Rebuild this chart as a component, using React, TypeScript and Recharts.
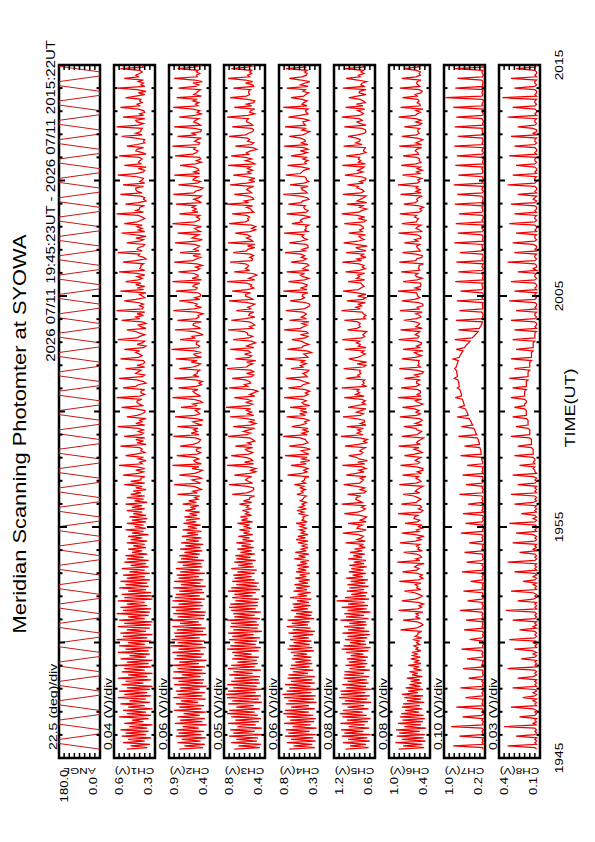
import React from 'react';
import { LineChart, Line, XAxis, YAxis, ReferenceArea } from 'recharts';

// ---------- texts / axis labels ----------
const TITLE = 'Meridian Scanning Photomter at SYOWA';
const SUBTITLE = '2026 07/11 19:45:23UT - 2026 07/11 2015:22UT';
const X_TITLE = 'TIME(UT)';
const CHANNEL_NAMES = ['ANGL', 'CH1(V)', 'CH2(V)', 'CH3(V)', 'CH4(V)', 'CH5(V)', 'CH6(V)', 'CH7(V)', 'CH8(V)'];
const DIV_LABELS = ['22.5 (deg)/div', '0.04 (V)/div', '0.06 (V)/div', '0.05 (V)/div', '0.06 (V)/div', '0.08 (V)/div', '0.08 (V)/div', '0.10 (V)/div', '0.03 (V)/div'];
const TOP_LABELS = ['180.0', '0.6', '0.9', '0.8', '0.8', '1.2', '1.0', '1.0', '0.4'];
const BOTTOM_LABELS = ['0.0', '0.3', '0.4', '0.4', '0.3', '0.6', '0.4', '0.2', '0.1'];
const Y_MIN = [0, 0.28, 0.42, 0.4, 0.32, 0.56, 0.36, 0.2, 0.14];
const Y_DIV = [22.5, 0.04, 0.06, 0.05, 0.06, 0.08, 0.08, 0.1, 0.03];
const TIME_TICK_VALUES = [0, 10, 20, 30];
const TIME_TICK_LABELS = ['1945', '1955', '2005', '2015'];
const MINUTE_TICKS = [0, 1, 2, 3, 4, 5, 6, 7, 8, 9, 10, 11, 12, 13, 14, 15, 16, 17, 18, 19, 20, 21, 22, 23, 24, 25, 26, 27, 28, 29, 30];

// sampling (minutes after 19:45): 6 samples per scan
const T0 = 23 / 60;
const DT = 0.0698;
const SCAN_SAMPLES = 6;
const SWEEP_SAMPLES = 3.5; // time spent moving between the two horizons

// ---------- series ----------
// scan angle (deg): start / end of each sweep (the mirror rests at the horizon in between)
const ANGLE = [
  0, 180, 180, 0, 0, 180, 180, 0, 0, 180, 180, 0, 0, 180, 180, 0, 0, 180, 180, 0,
  0, 180, 180, 0, 0, 180, 180, 0, 0, 180, 180, 0, 0, 180, 180, 0, 0, 180, 180, 0,
  0, 180, 180, 0, 0, 180, 180, 0, 0, 180, 180, 0, 0, 180, 180, 0, 0, 180, 180, 0,
  0, 180, 180, 0, 0, 180, 180, 0, 0, 180, 180, 0, 0, 180, 180, 0, 0, 180, 180, 0,
  0, 180, 180, 0, 0, 180, 180, 0, 0, 180, 180, 0, 0, 180, 180, 0, 0, 180, 180, 0,
  0, 180, 180, 0, 0, 180, 180, 0, 0, 180, 180, 0, 0, 180, 180, 0, 0, 180, 180, 0,
  0, 180, 180, 0, 0, 180, 180, 0, 0, 180, 180, 0, 0, 180, 180, 0, 0, 180, 180, 0,
  0, 180];

// photometer channels, in units of 0.01 V
const CH1 = [
  50,34,47,32,53,36, 49,31,54,35,51,33, 55,34,48,30,52,37, 46,33,56,31,50,35, 53,30,49,36,55,32,
  48,35,57,31,52,34, 56,32,50,30,54,37, 51,31,57,34,49,30, 54,36,52,31,57,33, 50,30,55,35,48,32,
  57,33,51,30,56,36, 49,31,58,34,53,30, 55,35,50,32,57,31, 52,30,56,36,49,33, 58,32,53,31,55,34,
  50,36,57,30,52,31, 54,31,49,35,56,33, 51,34,55,32,50,36, 53,32,48,36,54,33, 47,35,52,33,50,37,
  51,34,46,38,49,35, 45,36,50,34,47,38, 49,33,46,37,51,35, 44,37,50,35,46,34, 48,35,45,38,50,36,
  46,38,51,34,44,37, 50,36,47,39,45,35, 43,38,52,36,47,39, 39,36,53,41,37,43, 36,42,56,38,40,35,
  41,37,51,43,36,39, 38,40,55,35,42,37, 43,36,52,39,37,41, 37,41,57,36,43,38, 40,35,50,42,38,36,
  36,43,54,37,40,42, 42,38,58,40,36,39, 39,36,53,43,41,35, 37,42,56,38,36,43, 41,39,51,36,42,37,
  36,37,55,41,38,40, 43,40,52,37,35,42, 38,36,57,42,40,36, 40,43,50,35,39,41, 35,38,54,40,43,37,
  42,36,58,38,37,40, 37,41,52,43,36,38, 40,35,55,37,42,36, 43,39,51,41,38,42, 36,42,56,36,40,39,
  39,37,53,43,35,37, 41,40,57,38,42,41, 37,36,50,40,37,43, 35,43,54,36,41,38, 42,38,52,42,39,36,
  38,41,58,37,43,40, 40,36,51,41,35,37, 36,39,55,38,42,43, 43,37,53,36,40,38, 37,42,57,43,37,36,
  41,35,52,39,41,40, 38,40,56,35,38,43, 42,37,50,42,36,37, 36,43,54,38,43,39, 39,38,58,41,37,42,
  43,36,53,37,40,36, 37,41,55,40,42,38, 40,39,51,43,36,41, 35,42,57,36,39,37, 41,37,52,41,43,40,
  38,40,55,37,38,42];

const CH2 = [
  78,50,72,48,80,53, 75,47,82,52,79,49, 81,55,74,46,83,51, 77,48,80,54,73,47, 84,52,78,49,82,56,
  76,47,85,51,80,48, 82,54,77,46,84,50, 79,49,86,53,75,47, 85,51,80,48,87,55, 78,46,84,52,81,49,
  86,53,79,47,88,51, 80,48,87,54,83,46, 84,50,81,47,86,52, 77,55,88,49,80,48, 85,47,82,53,87,50,
  79,52,86,48,83,54, 82,49,78,51,85,47, 76,53,84,50,79,55, 81,48,77,54,82,51, 74,52,80,49,76,56,
  78,54,72,51,77,53, 71,50,76,55,70,52, 75,56,69,52,74,57, 68,53,73,58,70,54, 72,57,66,54,71,59,
  65,55,74,58,67,56, 60,54,80,57,62,52, 56,61,84,53,58,63, 52,57,78,60,55,51, 63,55,86,52,59,61,
  55,60,81,57,53,58, 58,52,77,62,56,54, 53,59,85,55,64,57, 61,56,80,51,58,62, 50,58,83,60,54,56,
  59,53,76,57,62,51, 54,62,86,53,57,60, 62,56,79,58,52,55, 51,59,84,55,61,57, 57,54,78,62,56,53,
  64,57,82,52,59,61, 52,61,87,56,54,58, 58,55,77,60,63,50, 55,60,83,53,57,62, 61,52,80,58,55,56,
  50,58,85,61,52,59, 57,63,78,54,60,53, 53,56,82,59,57,62, 60,54,86,52,63,56, 56,61,79,57,54,59,
  51,57,84,62,58,53, 62,53,77,55,61,57, 54,60,83,58,51,63, 59,55,80,53,57,60, 52,62,86,60,55,54,
  58,54,78,56,62,58, 63,59,82,52,56,61, 55,52,85,61,59,53, 50,58,79,57,53,62, 60,56,84,54,61,55,
  56,61,77,59,52,58, 53,54,83,62,58,56, 61,59,86,55,54,60, 57,52,80,58,63,53, 52,60,84,53,56,61,
  59,55,78,60,52,57, 54,62,85,56,59,55, 62,57,81,52,61,58, 56,53,79,59,55,62, 51,60,84,57,58,54,
  58,56,80,61,53,59];

const CH3 = [
  70,45,66,44,73,48, 68,47,75,43,71,50, 74,43,67,49,76,46, 69,44,73,47,77,50, 75,45,68,51,76,43,
  72,46,77,44,78,49, 76,43,71,48,77,45, 73,46,70,45,75,52, 71,44,76,50,73,47, 67,48,72,46,70,53,
  72,46,77,44,74,49, 70,48,75,45,72,51, 76,43,71,47,74,46, 73,48,77,45,70,50, 71,44,73,49,75,47,
  74,47,69,46,72,52, 70,49,76,45,73,48, 68,46,72,50,70,53, 71,50,67,48,73,51, 66,52,70,49,68,54,
  69,50,64,53,67,51, 63,54,68,51,62,55, 66,52,61,55,65,53, 60,55,67,52,63,57, 64,53,59,56,62,54,
  58,56,65,53,61,55, 55,50,72,58,53,51, 51,57,75,52,56,59, 57,53,70,55,49,54, 49,56,77,51,60,52,
  54,59,73,56,52,57, 59,52,69,53,57,50, 52,55,76,58,54,61, 56,50,71,54,49,55, 50,58,74,51,57,53,
  58,54,78,56,52,59, 53,57,70,50,55,51, 47,52,75,57,60,54, 55,59,72,53,51,58, 51,54,77,58,56,52,
  58,49,69,55,53,60, 54,56,74,51,58,54, 49,53,71,56,52,57, 57,60,76,52,55,50, 52,55,73,59,50,56,
  55,51,68,54,57,53, 50,57,75,52,55,59, 59,54,72,57,51,54, 53,58,77,50,56,52, 48,52,70,55,59,57,
  56,59,74,53,52,55, 51,54,71,58,57,50, 57,50,76,52,54,58, 54,57,69,55,49,53, 49,53,75,59,56,57,
  55,58,72,51,53,54, 58,52,77,56,60,51, 52,56,70,53,55,58, 56,51,74,58,50,55, 50,58,71,54,57,52,
  57,54,76,50,53,59, 53,59,73,56,58,54, 48,52,69,53,51,57, 55,57,75,59,56,52, 51,53,72,52,54,58,
  58,56,77,57,50,55, 54,50,70,53,58,51, 50,57,74,58,55,56, 56,54,71,51,52,59, 52,59,76,55,57,53,
  55,53,73,57,51,56];

const CH4 = [
  68,38,63,41,71,37, 66,40,73,37,69,44, 72,36,64,43,74,39, 67,37,71,40,75,45, 73,38,66,45,72,36,
  69,39,74,37,76,42, 71,36,68,43,73,38, 66,41,70,38,69,46, 64,40,67,44,66,41, 61,43,65,42,63,47,
  66,39,70,41,68,44, 63,42,67,45,64,40, 69,38,64,43,71,46, 65,44,70,39,62,42, 60,41,66,46,63,43,
  64,45,59,42,67,47, 58,43,63,47,60,44, 62,46,57,44,61,48, 56,44,60,48,58,45, 59,47,55,45,62,49,
  57,45,61,48,54,46, 53,48,58,46,60,49, 58,46,54,50,56,47, 55,49,60,47,53,51, 52,47,57,51,59,48,
  56,50,53,48,55,52, 51,48,59,52,54,49, 55,51,62,49,53,50, 50,45,70,53,47,51, 46,52,66,48,55,44,
  53,47,73,45,50,54, 43,50,68,52,46,48, 49,55,75,47,53,45, 52,46,65,55,48,50, 45,51,71,49,56,47,
  55,48,67,44,51,53, 48,53,74,50,46,49, 44,49,69,54,52,45, 51,56,72,47,49,52, 47,45,66,52,55,48,
  54,50,73,46,48,51, 42,47,70,53,52,45, 50,54,65,49,46,55, 46,48,74,55,51,47, 53,45,68,48,54,50,
  48,52,72,51,47,44, 44,49,67,54,50,53, 52,46,75,47,55,48, 47,53,69,50,45,52, 55,50,71,45,52,49,
  45,47,66,52,48,54, 50,54,73,49,53,46, 46,48,68,55,47,51, 53,51,74,46,50,48, 49,45,65,53,55,52,
  43,52,71,48,46,50, 51,49,69,54,52,45, 47,55,75,47,49,53, 54,46,67,51,45,48, 48,50,72,55,53,51,
  44,53,70,48,50,46, 52,47,66,53,47,55, 46,51,74,46,54,49, 50,55,68,52,48,44, 53,48,73,49,51,52,
  45,52,69,55,46,48, 49,46,75,47,53,51, 47,53,66,51,49,45, 52,49,71,46,55,50, 44,54,68,53,48,47,
  50,47,72,49,52,54];

const CH5 = [
  102,66,95,70,106,64, 98,68,108,63,104,74, 109,65,97,72,110,67, 100,63,107,69,111,75, 106,66,99,73,108,62,
  103,68,112,64,109,71, 110,62,101,70,107,66, 99,69,105,65,104,73, 104,64,96,71,102,68, 97,70,100,67,94,74,
  101,66,108,63,105,70, 95,71,103,68,99,64, 107,65,98,72,104,69, 96,70,110,66,101,73, 104,63,99,69,108,67,
  98,72,116,65,103,70, 93,68,100,73,96,66, 99,71,94,67,101,75, 91,70,97,74,93,69, 96,73,89,70,98,76,
  90,72,95,76,88,71, 80,74,102,71,84,77, 74,82,106,78,70,84, 82,76,98,70,79,73, 69,79,104,83,75,71,
  77,72,108,76,81,86, 85,78,99,73,70,79, 72,84,105,80,77,74, 79,70,101,86,73,81, 70,76,107,72,83,68,
  81,85,97,78,75,80, 76,71,103,82,69,74, 68,80,109,75,84,78, 83,74,100,70,79,72, 73,86,106,79,74,85,
  78,70,98,84,71,76, 71,77,104,73,86,80, 84,81,108,69,76,73, 75,72,101,80,83,78, 80,79,105,74,70,84,
  69,85,97,83,77,71, 77,73,103,70,82,79, 85,80,107,76,72,75, 72,69,99,84,79,81, 79,83,104,71,74,70,
  74,76,108,79,86,77, 82,71,100,75,70,83, 70,84,106,82,78,73, 76,78,98,72,85,80, 83,72,102,80,71,76,
  73,81,107,77,84,70, 78,74,101,70,79,86, 68,86,105,83,73,78, 81,71,97,76,80,74, 75,79,104,73,70,82,
  72,84,108,81,77,69, 80,75,100,69,84,79, 74,70,106,78,73,76, 84,82,99,74,80,71, 70,77,103,85,75,83,
  77,73,107,71,82,78, 82,80,101,79,70,74, 73,71,105,76,86,80, 79,85,98,83,72,70, 71,76,104,70,79,84,
  76,81,108,80,74,77, 83,72,102,75,85,71, 74,79,97,84,70,81, 80,70,106,73,78,76, 69,83,101,79,82,73,
  78,74,105,72,76,85];

const CH6 = [
  85,45,78,48,90,43, 80,46,88,44,84,52, 89,42,76,50,86,47, 79,44,83,46,81,53, 75,48,80,52,78,45,
  72,50,76,47,80,55, 70,47,74,51,68,49, 66,52,72,48,64,55, 68,49,62,53,70,50, 60,54,66,51,63,56,
  64,50,58,55,61,52, 57,53,63,49,59,55, 55,49,82,58,52,47, 50,56,78,51,58,54, 58,47,85,55,49,53,
  46,54,80,59,52,48, 53,60,76,50,57,55, 59,50,84,54,47,52, 48,56,79,57,53,60, 56,45,87,52,58,49,
  51,57,77,48,55,53, 57,52,83,59,50,56, 45,59,80,53,57,48, 54,48,75,56,52,61, 60,55,86,50,47,54,
  49,51,81,57,55,50, 55,61,78,52,59,56, 52,47,84,58,50,53, 58,54,79,49,56,47, 47,57,82,55,52,59,
  55,50,76,60,48,53, 61,53,85,51,57,55, 50,46,80,56,53,49, 56,58,77,48,59,52, 48,52,83,57,51,58,
  53,60,79,53,47,55, 59,49,86,50,56,51, 51,55,81,58,52,57, 57,51,76,54,60,48, 46,58,84,51,55,53,
  54,53,80,59,49,56, 60,47,78,52,57,50, 49,56,85,55,53,59, 55,52,82,48,58,54, 52,59,77,57,50,52,
  58,48,83,53,56,47, 47,54,80,60,52,55, 56,57,86,50,59,51, 50,51,78,56,48,57, 59,55,81,52,54,53,
  53,46,84,58,57,49, 48,58,79,51,53,56, 57,52,76,55,60,50, 51,56,85,49,52,58, 55,50,80,57,56,54,
  60,57,83,53,49,52, 46,53,77,59,55,57, 54,48,82,50,58,51, 58,55,86,56,52,55, 49,59,79,52,57,48,
  56,51,81,58,50,53, 52,57,78,54,55,59, 57,49,84,49,58,52, 47,56,80,57,53,55, 55,52,76,53,49,58,
  50,58,85,59,56,51, 58,47,82,51,52,56, 53,55,79,56,59,50, 48,53,83,52,55,57, 56,50,80,58,51,53,
  51,57,77,54,56,49];

const CH7 = [
  24,25,82,23,26,24, 25,23,70,25,24,26, 23,26,86,24,25,23, 26,24,64,26,23,25, 24,25,76,23,26,24,
  25,23,58,25,24,26, 23,26,68,24,25,23, 26,24,52,26,23,25, 24,25,63,23,26,24, 25,23,55,25,24,26,
  24,26,66,24,25,23, 26,24,50,26,23,25, 23,25,61,23,26,24, 25,23,57,25,24,26, 24,26,69,24,25,23,
  26,24,54,26,23,25, 24,25,62,23,26,24, 25,23,48,25,24,26, 23,26,65,24,25,23, 26,24,56,26,23,25,
  24,25,60,23,26,24, 25,23,51,25,24,26, 24,26,67,24,25,23, 26,24,58,26,23,25, 23,25,63,23,26,24,
  25,23,53,25,24,26, 24,26,70,24,25,23, 26,24,57,26,23,25, 24,25,64,23,26,24, 25,23,55,25,24,26,
  26,27,68,27,28,28, 29,30,60,31,31,33, 33,35,72,36,38,39, 40,42,66,44,46,47, 49,51,75,53,54,55,
  57,58,70,60,61,62, 63,64,78,66,66,67, 68,69,74,70,71,71, 72,73,80,74,74,75, 75,76,79,76,75,74,
  73,72,82,70,69,67, 65,63,76,60,58,55, 52,49,79,45,42,39, 36,33,72,31,29,27, 26,25,77,24,25,24,
  24,26,70,25,24,25, 25,24,75,24,26,23, 23,25,68,26,24,25, 26,24,78,23,25,24, 24,26,72,25,23,26,
  25,23,76,24,26,24, 24,25,69,26,24,25, 26,24,80,23,25,24, 24,26,73,25,23,26, 25,23,77,24,26,24,
  23,25,71,26,24,25, 26,24,79,23,25,24, 24,26,74,25,23,26, 25,23,81,24,26,23, 24,25,72,26,24,25,
  26,24,78,23,25,24, 23,26,75,25,23,26, 25,23,80,24,26,24, 24,25,73,26,24,25, 26,24,79,23,25,23,
  24,26,76,25,23,25, 25,23,82,24,26,24, 23,25,97,26,24,26, 25,24,78,24,25,24, 24,26,74,25,23,25,
  26,24,80,23,25,24];

const CH8 = [
  16,17,33,16,17,16, 17,16,28,17,16,17, 16,17,35,16,18,16, 17,16,26,17,16,17, 16,18,31,16,17,16,
  18,16,24,17,16,18, 16,17,30,16,17,16, 17,16,27,18,16,17, 16,17,33,16,17,16, 17,16,25,17,16,18,
  16,18,29,16,17,16, 18,16,32,17,16,17, 16,17,26,16,18,16, 17,16,30,17,16,17, 16,17,34,16,17,16,
  17,16,27,18,16,17, 16,18,31,16,17,16, 18,16,24,17,16,18, 16,17,29,16,17,16, 17,16,33,17,16,17,
  16,17,26,16,18,16, 17,16,30,17,16,17, 16,18,28,16,17,16, 18,16,32,17,16,18, 16,17,25,16,17,16,
  17,16,29,18,16,17, 16,17,31,16,17,16, 17,16,27,17,16,17, 16,18,30,16,17,17, 18,17,26,17,18,17,
  17,18,29,18,18,18, 18,19,27,19,19,19, 19,20,31,20,20,20, 20,21,28,21,21,21, 21,22,30,22,22,22,
  22,23,29,23,23,22, 22,23,31,23,23,23, 23,22,30,22,22,22, 22,21,32,21,21,21, 21,20,29,20,20,20,
  20,19,31,19,19,19, 19,18,28,18,18,18, 18,17,30,17,17,17, 17,16,29,16,17,16, 16,17,31,17,16,17,
  17,16,28,16,17,16, 16,17,32,17,16,17, 17,16,29,16,17,16, 16,17,31,17,16,17, 17,16,27,16,18,16,
  16,17,33,17,16,17, 17,16,29,16,17,16, 16,18,30,17,16,17, 17,16,28,16,17,16, 16,17,32,17,16,17,
  17,16,29,16,17,16, 16,17,31,17,16,18, 17,16,27,16,17,16, 16,17,33,17,16,17, 17,16,30,16,17,16,
  16,17,28,17,16,17, 17,16,32,16,17,16, 16,17,29,17,16,17, 17,16,31,16,18,16, 16,18,27,17,16,17,
  17,16,33,16,17,16, 16,17,30,17,16,17, 17,16,36,16,17,16, 16,17,29,17,16,17, 17,16,31,16,17,16,
  16,17,28,17,16,17];

const CHANNELS = [CH1, CH2, CH3, CH4, CH5, CH6, CH7, CH8];

// ---------- layout ----------
const W = 842;
const H = 595;
const PANEL_TOP0 = 59;
const PANEL_STEP = 55;
const PANEL_H = 41;
const PLOT_L = 84;
const PLOT_R = 777;
const AX_H = 2;
const FONT = "'Liberation Sans', Arial, Helvetica, sans-serif";

function buildRows(idx: number) {
  if (idx === 0) {
    return ANGLE.map((a, j) => ({
      t: T0 + (Math.floor(j / 2) * SCAN_SAMPLES + (j % 2) * SWEEP_SAMPLES) * DT,
      v: a,
    }));
  }
  return CHANNELS[idx - 1].map((c, i) => ({ t: T0 + i * DT, v: c / 100 }));
}

function SText({ x, y, size, anchor = 'start', rotate = 0, sx = 1.25, children }: any) {
  return (
    <text
      transform={`translate(${x} ${y}) rotate(${rotate}) scale(${sx} 1)`}
      fontSize={size}
      fontFamily={FONT}
      textAnchor={anchor}
      fill="#000"
    >
      {children}
    </text>
  );
}

function TimeTick(props: any) {
  const { x, payload, side, plotTop, plotBottom, labelY } = props;
  const m = payload.value;
  const len = m % 10 === 0 ? 8 : m % 5 === 0 ? 6 : 3.5;
  const y0 = side === 'top' ? plotTop : plotBottom;
  const y1 = side === 'top' ? plotTop + len : plotBottom - len;
  const li = TIME_TICK_VALUES.indexOf(m);
  return (
    <g>
      {m > 0 && m < 30 && <line x1={x} x2={x} y1={y0} y2={y1} stroke="#000" strokeWidth={2} />}
      {labelY != null && li >= 0 && (
        <SText x={x} y={labelY} size={11} anchor="middle">{TIME_TICK_LABELS[li]}</SText>
      )}
    </g>
  );
}

function ValueTick(props: any) {
  const { y, payload, side, idx, plotTop, plotBottom, ticks } = props;
  const v = payload.value;
  const j = ticks.findIndex((t: number) => Math.abs(t - v) < 1e-9);
  const interior = j > 0 && j < ticks.length - 1;
  return (
    <g>
      {interior && side === 'left' && <line x1={PLOT_L} x2={PLOT_L + 5} y1={y} y2={y} stroke="#000" strokeWidth={1.5} />}
      {interior && side === 'right' && <line x1={PLOT_R - 5} x2={PLOT_R} y1={y} y2={y} stroke="#000" strokeWidth={1.5} />}
      {side === 'left' && j === ticks.length - 1 && (
        <SText x={56} y={plotTop + 9} size={10.5} anchor="middle">{TOP_LABELS[idx]}</SText>
      )}
      {side === 'left' && j === 0 && (
        <SText x={56} y={plotBottom - 3.5} size={10.5} anchor="middle">{BOTTOM_LABELS[idx]}</SText>
      )}
    </g>
  );
}

function Panel({ idx }: { idx: number }) {
  const pTop = PANEL_TOP0 + idx * PANEL_STEP;
  const cTop = idx === 0 ? 0 : pTop - 14;
  const cBottom = idx === 8 ? H : pTop + PANEL_H + 14;
  const h = cBottom - cTop;
  const plotTop = pTop - cTop;
  const plotBottom = plotTop + PANEL_H;
  const lo = Y_MIN[idx];
  const div = Y_DIV[idx];
  const yTicks = [0, 1, 2, 3, 4, 5, 6, 7, 8].map((j) => lo + j * div);
  const hi = yTicks[8];
  const rows = buildRows(idx);
  const labelY = idx === 8 ? 563 - cTop : null;
  const color = idx === 0 ? '#c81818' : '#ee0000';
  return (
    <div style={{ position: 'absolute', left: 0, top: cTop }}>
      <LineChart
        width={W}
        height={h}
        data={rows}
        margin={{ top: plotTop - AX_H, bottom: h - plotBottom - AX_H, left: 0, right: 0 }}
      >
        <XAxis
          xAxisId="b"
          orientation="bottom"
          type="number"
          dataKey="t"
          domain={[0, 30]}
          allowDataOverflow
          ticks={MINUTE_TICKS}
          interval={0}
          height={AX_H}
          axisLine={false}
          tickLine={false}
          tick={(p: any) => (
            <TimeTick {...p} side="bottom" plotTop={plotTop} plotBottom={plotBottom} labelY={labelY} />
          )}
        />
        <XAxis
          xAxisId="t"
          orientation="top"
          type="number"
          dataKey="t"
          domain={[0, 30]}
          allowDataOverflow
          ticks={MINUTE_TICKS}
          interval={0}
          height={AX_H}
          axisLine={false}
          tickLine={false}
          tick={(p: any) => <TimeTick {...p} side="top" plotTop={plotTop} plotBottom={plotBottom} labelY={null} />}
        />
        <YAxis
          yAxisId="l"
          orientation="left"
          type="number"
          width={PLOT_L}
          domain={[lo, hi]}
          allowDataOverflow
          ticks={yTicks}
          interval={0}
          axisLine={false}
          tickLine={false}
          tick={(p: any) => (
            <ValueTick {...p} side="left" idx={idx} plotTop={plotTop} plotBottom={plotBottom} ticks={yTicks} />
          )}
        />
        <YAxis
          yAxisId="r"
          orientation="right"
          type="number"
          width={W - PLOT_R}
          domain={[lo, hi]}
          allowDataOverflow
          ticks={yTicks}
          interval={0}
          axisLine={false}
          tickLine={false}
          tick={(p: any) => (
            <ValueTick {...p} side="right" idx={idx} plotTop={plotTop} plotBottom={plotBottom} ticks={yTicks} />
          )}
        />
        <Line
          xAxisId="b"
          yAxisId="l"
          type="linear"
          dataKey="v"
          stroke={color}
          strokeWidth={idx === 0 ? 1 : 1.25}
          dot={false}
          activeDot={false}
          isAnimationActive={false}
        />
        <ReferenceArea
          xAxisId="b"
          yAxisId="l"
          x1={0}
          x2={30}
          y1={lo}
          y2={hi}
          fill="none"
          fillOpacity={0}
          stroke="#000"
          strokeWidth={2.5}
          ifOverflow="visible"
        />
      </LineChart>
    </div>
  );
}

export default function App() {
  return (
    <div style={{ position: 'absolute', left: 0, top: 0, width: 595, height: 842, overflow: 'hidden', background: '#fff' }}>
      <div
        style={{
          position: 'absolute',
          left: 0,
          top: 0,
          width: W,
          height: H,
          transformOrigin: '0 0',
          transform: 'translate(0px, 842px) rotate(-90deg)',
        }}
      >
        {[0, 1, 2, 3, 4, 5, 6, 7, 8].map((i) => (
          <Panel key={i} idx={i} />
        ))}
        <svg width={W} height={H} style={{ position: 'absolute', left: 0, top: 0, pointerEvents: 'none' }}>
          <SText x={408} y={26} size={17.5} anchor="middle" sx={1.25}>{TITLE}</SText>
          <SText x={802} y={55} size={12} anchor="end" sx={1.25}>{SUBTITLE}</SText>
          {DIV_LABELS.map((d, i) => (
            <SText key={'d' + i} x={92} y={PANEL_TOP0 + i * PANEL_STEP - 2} size={11.3}>{d}</SText>
          ))}
          {CHANNEL_NAMES.map((n, i) => (
            <SText key={'n' + i} x={74} y={PANEL_TOP0 + i * PANEL_STEP + PANEL_H / 2} size={9.5} anchor="middle" rotate={-90}>{n}</SText>
          ))}
          <SText x={434} y={575} size={15} anchor="middle" sx={1.2}>{X_TITLE}</SText>
        </svg>
      </div>
    </div>
  );
}
